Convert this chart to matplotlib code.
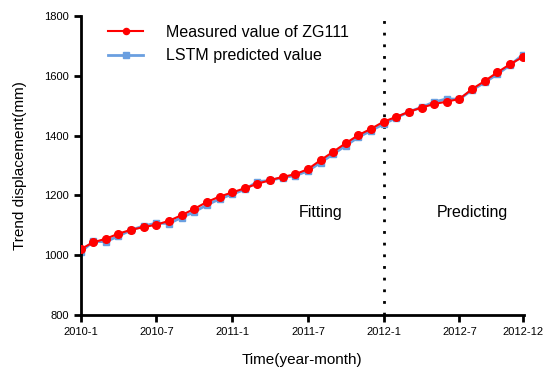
import numpy as np
import matplotlib.pyplot as plt

plt.rcParams['font.family'] = ['Liberation Sans', 'DejaVu Sans']

# monthly trend displacement (mm), 2010-1 .. 2012-12
measured = [1020, 1043, 1055, 1072, 1085, 1094, 1102, 1115, 1134,
            1155, 1178, 1196, 1210, 1224, 1239, 1251, 1262,
            1271, 1288, 1318, 1346, 1375, 1402, 1423,
            1447, 1463, 1480, 1494, 1506, 1514, 1523, 1556, 1583, 1612, 1639, 1663]
predicted = [1010, 1046, 1045, 1064, 1084, 1098, 1107, 1106, 1126,
             1145, 1168, 1188, 1204, 1220, 1246, 1250, 1260,
             1266, 1282, 1310, 1338, 1367, 1395, 1417,
             1439, 1460, 1480, 1495, 1513, 1523, 1522, 1553, 1578, 1606, 1636, 1670]
tick_pos = [0, 6, 12, 18, 24, 30, 35]
tick_labels = ['2010-1', '2010-7', '2011-1', '2011-7', '2012-1', '2012-7', '2012-12']
split_month = 24

months = np.arange(len(measured))

fig = plt.figure(figsize=(5.5, 3.85), dpi=100)
ax = fig.add_axes([0.1465, 0.182, 0.806, 0.776])

ax.plot(months, predicted, color='#6a9fe0', lw=2.0, marker='s', ms=5,
        label='LSTM predicted value', zorder=2)
ax.plot(months, measured, color='#ff0000', lw=1.5, marker='o', ms=5.5,
        label='Measured value of ZG111', zorder=3)
ax.axvline(split_month, color='black', ls=(0, (1, 3.2)), lw=2.0, zorder=1)

ax.text(19.0, 1144, 'Fitting', fontsize=11.5, ha='center', va='center')
ax.text(31.0, 1144, 'Predicting', fontsize=11.5, ha='center', va='center')

ax.set_xlim(0, 35.1)
ax.set_ylim(800, 1800)
ax.set_xticks(tick_pos)
ax.set_xticklabels(tick_labels, fontsize=8)
ax.set_yticks(np.arange(800, 1801, 200))
ax.tick_params(axis='both', labelsize=8, width=2, length=5, direction='out')
for s in ['top', 'right']:
    ax.spines[s].set_visible(False)
for s in ['left', 'bottom']:
    ax.spines[s].set_linewidth(2)

ax.set_xlabel('Time(year-month)', fontsize=11, labelpad=12)
ax.set_ylabel('Trend displacement(mm)', fontsize=11, labelpad=12)

h, l = ax.get_legend_handles_labels()
ax.legend(h[::-1], l[::-1], loc='upper left', bbox_to_anchor=(0.03, 1.02),
          frameon=False, fontsize=11.5, handlelength=2.2, handletextpad=1.4,
          labelspacing=0.55, markerscale=0.8)

fig.savefig('out.png', dpi=100)
plt.close(fig)
